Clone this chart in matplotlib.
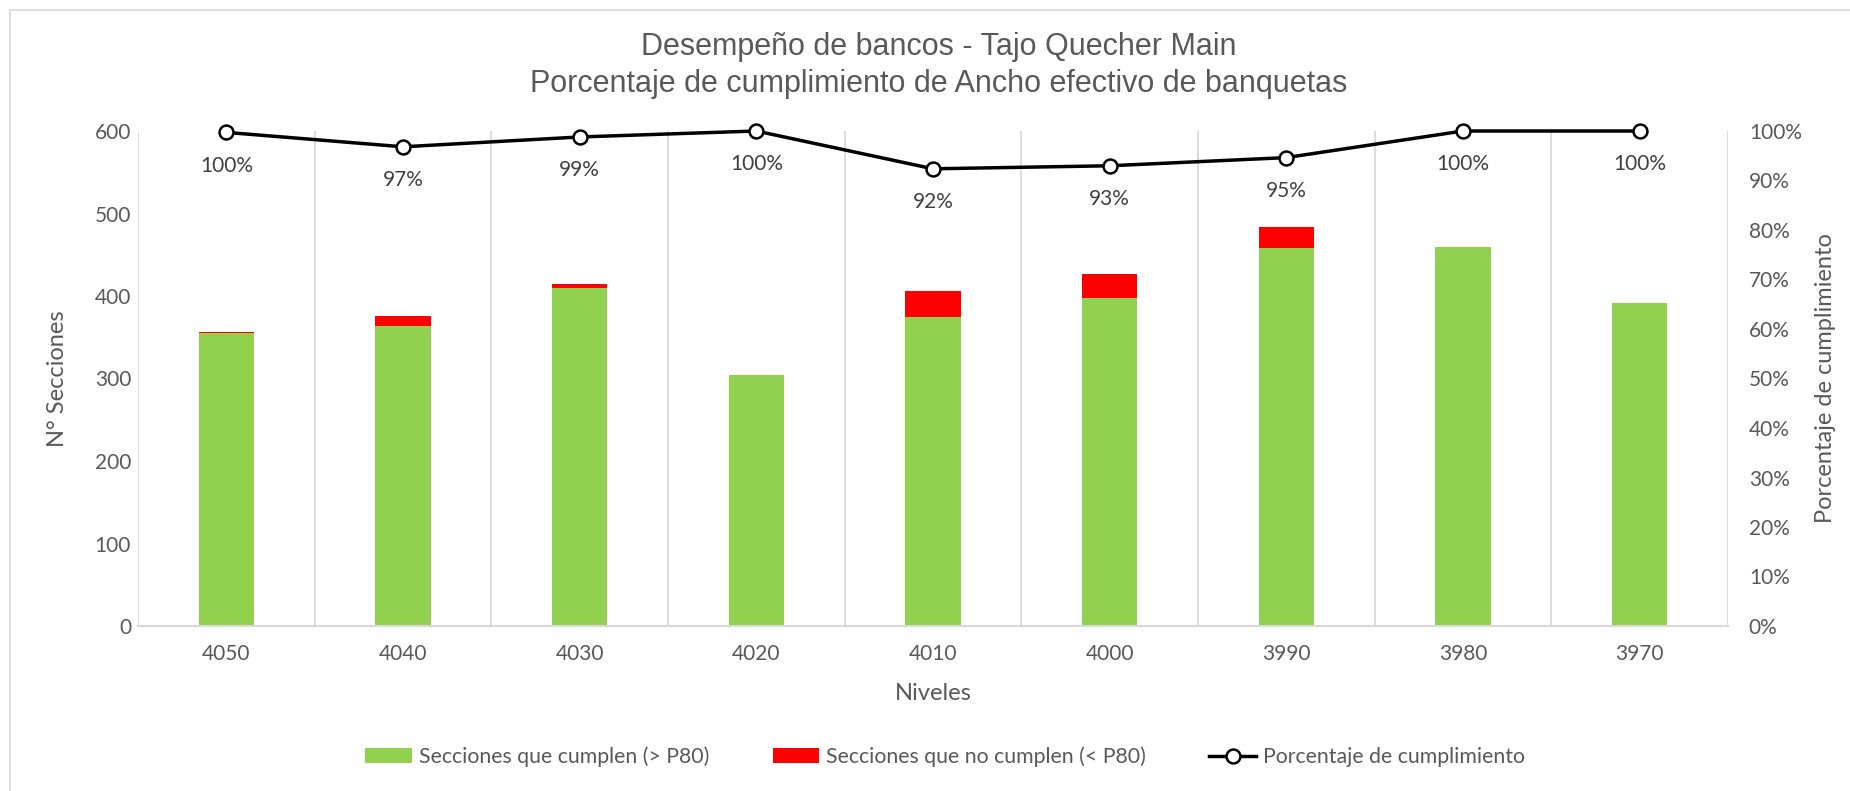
import matplotlib
matplotlib.use("Agg")
import matplotlib.pyplot as plt
from matplotlib.ticker import FuncFormatter, MultipleLocator
from matplotlib.lines import Line2D
from matplotlib.patches import Patch, Rectangle
import numpy as np

# Bench levels and section counts
niveles = ["4050", "4040", "4030", "4020", "4010", "4000", "3990", "3980", "3970"]
cumplen = [355, 364, 410, 304, 375, 397, 458, 459, 391]
no_cumplen = [1, 12, 5, 0, 31, 30, 26, 0, 0]

titulo = ["Desempeño de bancos - Tajo Quecher Main",
          "Porcentaje de cumplimiento de Ancho efectivo de banquetas"]
leyenda = ["Secciones que cumplen (> P80)",
           "Secciones que no cumplen (< P80)",
           "Porcentaje de cumplimiento"]

GREEN = "#92d050"
RED = "#ff0000"
GRAY_TXT = "#595959"
GRID = "#d9d9d9"
FONT = "Lato"
TITLE_FONT = "Liberation Sans"

cumplen_a = np.array(cumplen, dtype=float)
no_a = np.array(no_cumplen, dtype=float)
pct = cumplen_a / (cumplen_a + no_a)

W, H = 1850, 791
fig = plt.figure(figsize=(W / 100, H / 100), dpi=100)
plt.rcParams["font.family"] = [FONT, "DejaVu Sans"]

# chart-area border
fig.patches.append(Rectangle((10 / W, -0.05), 1.2, 1 - 10 / H + 0.05,
                             transform=fig.transFigure, fill=False,
                             edgecolor=GRID, lw=1.2))

left, right, bottom, top = 138, 1728, 626, 131
ax = fig.add_axes([left / W, 1 - bottom / H, (right - left) / W, (bottom - top) / H])

x = np.arange(len(niveles))
bw = 0.3125
ax.bar(x, cumplen_a, width=bw, color=GREEN, zorder=2)
ax.bar(x, no_a, bottom=cumplen_a, width=bw, color=RED, zorder=2)

for b in np.arange(-0.5, len(niveles), 1.0):
    ax.axvline(b, color=GRID, lw=1.3, zorder=0)

ax.set_xlim(-0.5, len(niveles) - 0.5)
ax.set_ylim(0, 600)
ax.yaxis.set_major_locator(MultipleLocator(100))
ax.set_xticks(x)
ax.set_xticklabels(niveles)
for s in ("top", "left", "right"):
    ax.spines[s].set_visible(False)
ax.spines["bottom"].set_color(GRID)
ax.spines["bottom"].set_linewidth(1.5)
ax.tick_params(length=0, colors=GRAY_TXT, labelsize=15)
ax.tick_params(axis="x", pad=13)
ax.tick_params(axis="y", pad=5)

ax2 = ax.twinx()
ax2.set_ylim(0, 1)
ax2.yaxis.set_major_locator(MultipleLocator(0.1))
ax2.yaxis.set_major_formatter(FuncFormatter(lambda v, _: f"{v:.0%}"))
for s in ax2.spines.values():
    s.set_visible(False)
ax2.tick_params(length=0, colors=GRAY_TXT, labelsize=15, pad=15)
ax2.plot(x, pct, color="black", lw=2.5, marker="o", markersize=10,
         markerfacecolor="white", markeredgecolor="black", markeredgewidth=1.8,
         zorder=3, clip_on=False)
for xi, p in zip(x, pct):
    ax2.annotate(f"{p:.0%}", (xi, p), xytext=(0, -24), textcoords="offset points",
                 ha="center", va="center", fontsize=15, color="#404040")

# titles and axis names
fig.text(939 / W, 1 - 47 / H, titulo[0], ha="center", va="center",
         fontsize=22, color=GRAY_TXT, family=TITLE_FONT)
fig.text(939 / W, 1 - 84 / H, titulo[1], ha="center", va="center",
         fontsize=22, color=GRAY_TXT, family=TITLE_FONT)
fig.text(57 / W, 1 - ((top + bottom) / 2) / H, "N° Secciones", rotation=90,
         ha="center", va="center", fontsize=17, color=GRAY_TXT)
fig.text(1826 / W, 1 - ((top + bottom) / 2) / H, "Porcentaje de cumplimiento",
         rotation=90, ha="center", va="center", fontsize=17, color=GRAY_TXT)
fig.text(((left + right) / 2) / W, 1 - 694 / H, "Niveles", ha="center",
         va="center", fontsize=17, color=GRAY_TXT)

handles = [Patch(facecolor=GREEN), Patch(facecolor=RED),
           Line2D([], [], color="black", lw=2.5, marker="o", markersize=10,
                  markerfacecolor="white", markeredgecolor="black",
                  markeredgewidth=1.8)]
fig.legend(handles, leyenda, loc="center", bbox_to_anchor=(945 / W, 1 - 757 / H),
           ncol=3, frameon=False, fontsize=15.3, labelcolor=GRAY_TXT,
           handlelength=2.2, handletextpad=0.3, columnspacing=3.0)

fig.savefig("out.png", dpi=100)
